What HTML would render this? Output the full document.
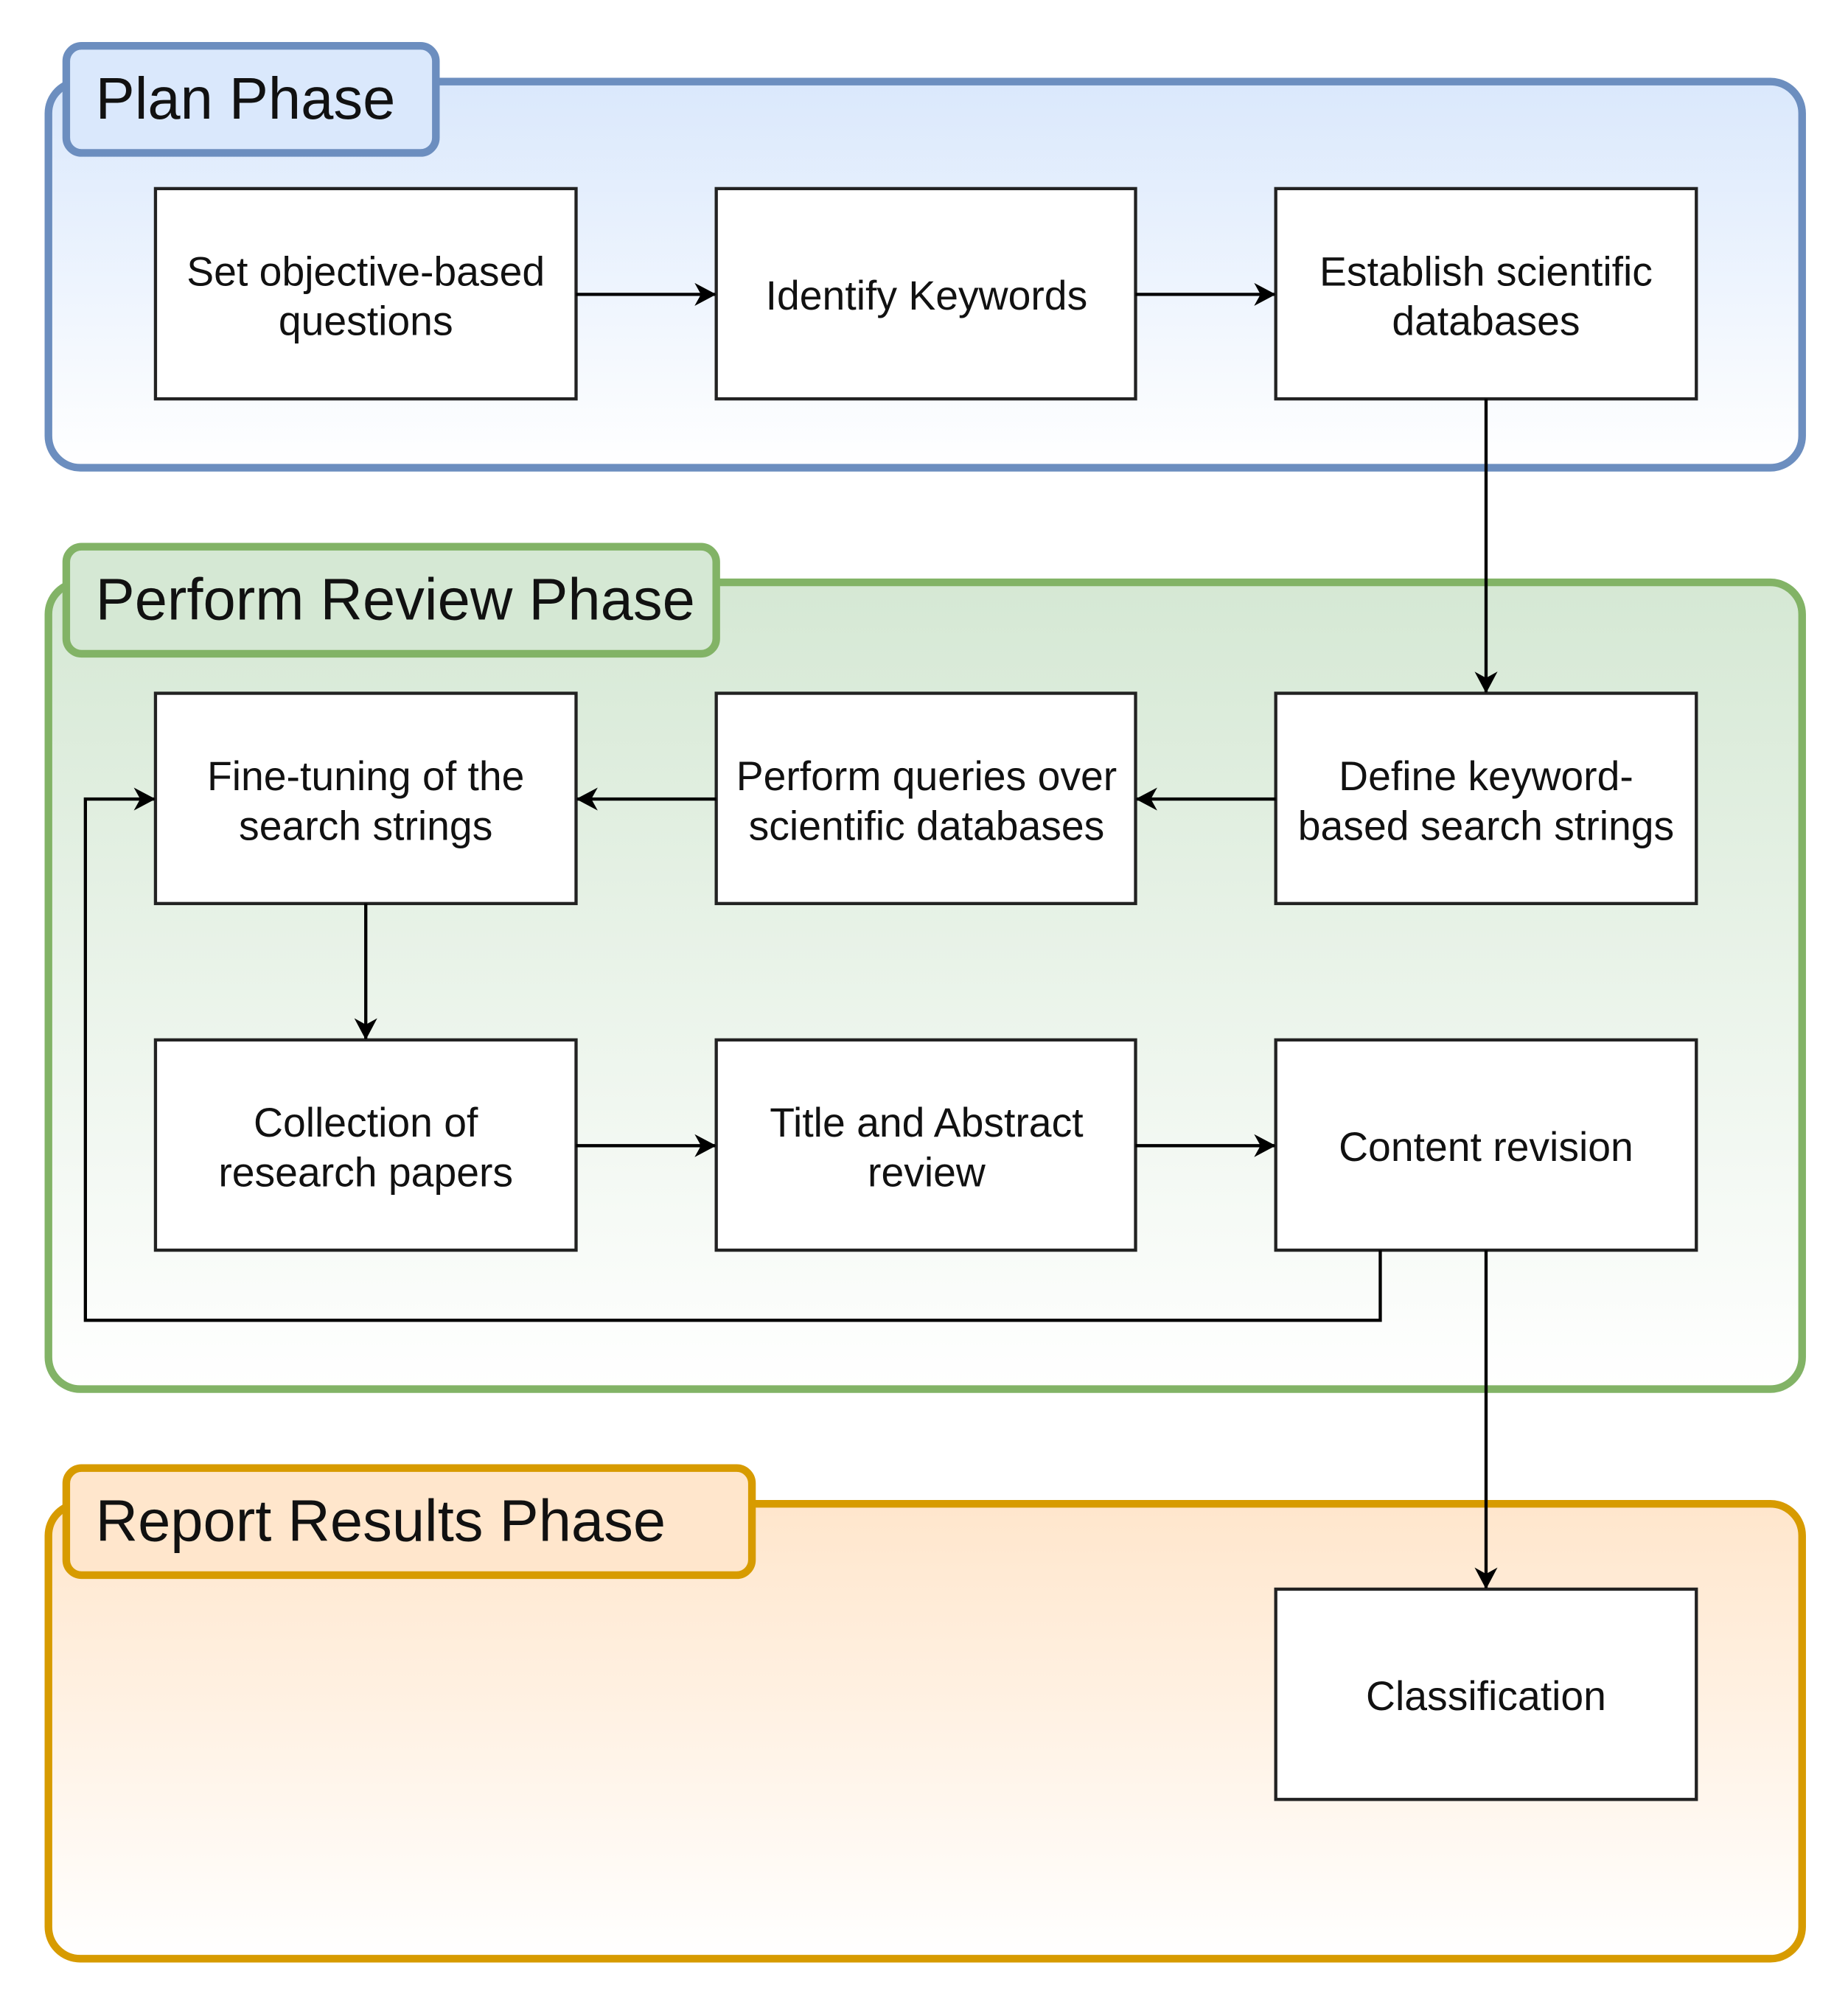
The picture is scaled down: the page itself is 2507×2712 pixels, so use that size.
<!DOCTYPE html>
<html><head><meta charset="utf-8"><style>html,body{margin:0;padding:0;background:#fff}svg{display:block}</style></head><body>
<svg width="2507" height="2712" viewBox="0 0 1450 1568.6" preserveAspectRatio="none" xmlns="http://www.w3.org/2000/svg" font-family="Liberation Sans, sans-serif">
<defs>
<linearGradient id="gb" x1="0" y1="0" x2="0" y2="1"><stop offset="0" stop-color="#dae8fc"/><stop offset="1" stop-color="#ffffff"/></linearGradient>
<linearGradient id="gg" x1="0" y1="0" x2="0" y2="1"><stop offset="0" stop-color="#d5e8d4"/><stop offset="1" stop-color="#ffffff"/></linearGradient>
<linearGradient id="go" x1="0" y1="0" x2="0" y2="1"><stop offset="0" stop-color="#ffe6cc"/><stop offset="1" stop-color="#ffffff"/></linearGradient>
<marker id="a" markerWidth="18" markerHeight="18" refX="16" refY="9" orient="auto" markerUnits="userSpaceOnUse"><path d="M0,0 L17,9 L0,18 L5,9 Z" fill="#000"/></marker>
</defs>
<rect x="38" y="64" width="1376" height="303" rx="25" fill="url(#gb)" stroke="#6c8ebf" stroke-width="6"/>
<rect x="52" y="36" width="290" height="84" rx="12" fill="#dae8fc" stroke="#6c8ebf" stroke-width="6"/>
<text x="75" y="93" font-size="46" fill="#111">Plan Phase</text>
<rect x="38" y="457" width="1376" height="633" rx="25" fill="url(#gg)" stroke="#82b366" stroke-width="6"/>
<rect x="52" y="429" width="510" height="84" rx="12" fill="#d5e8d4" stroke="#82b366" stroke-width="6"/>
<text x="75" y="486" font-size="46" fill="#111">Perform Review Phase</text>
<rect x="38" y="1180" width="1376" height="357" rx="25" fill="url(#go)" stroke="#d79b00" stroke-width="6"/>
<rect x="52" y="1152" width="538" height="84" rx="12" fill="#ffe6cc" stroke="#d79b00" stroke-width="6"/>
<text x="75" y="1209" font-size="46" fill="#111">Report Results Phase</text>
<g fill="#fff" stroke="#222" stroke-width="2.5">
<rect x="122" y="148" width="330" height="165"/><rect x="562" y="148" width="329" height="165"/><rect x="1001" y="148" width="330" height="165"/>
<rect x="122" y="544" width="330" height="165"/><rect x="562" y="544" width="329" height="165"/><rect x="1001" y="544" width="330" height="165"/>
<rect x="122" y="816" width="330" height="165"/><rect x="562" y="816" width="329" height="165"/><rect x="1001" y="816" width="330" height="165"/>
<rect x="1001" y="1247" width="330" height="165"/>
</g>
<g font-size="32" fill="#111" text-anchor="middle">
<text x="287" y="224">Set objective-based</text><text x="287" y="263">questions</text>
<text x="727" y="243">Identify Keywords</text>
<text x="1166" y="224">Establish scientific</text><text x="1166" y="263">databases</text>
<text x="287" y="620">Fine-tuning of the</text><text x="287" y="659">search strings</text>
<text x="727" y="620">Perform queries over</text><text x="727" y="659">scientific databases</text>
<text x="1166" y="620">Define keyword-</text><text x="1166" y="659">based search strings</text>
<text x="287" y="892">Collection of</text><text x="287" y="931">research papers</text>
<text x="727" y="892">Title and Abstract</text><text x="727" y="931">review</text>
<text x="1166" y="911">Content revision</text>
<text x="1166" y="1342">Classification</text>
</g>
<g stroke="#000" stroke-width="2.5" fill="none" marker-end="url(#a)">
<path d="M452,231 H561"/><path d="M891,231 H1000"/>
<path d="M1166,313 V543"/>
<path d="M1001,627 H892"/><path d="M562,627 H453"/>
<path d="M287,709 V815"/>
<path d="M452,899 H561"/><path d="M891,899 H1000"/>
<path d="M1083,981 V1036 H67 V627 H121"/>
<path d="M1166,981 V1246"/>
</g>
</svg>
</body></html>
